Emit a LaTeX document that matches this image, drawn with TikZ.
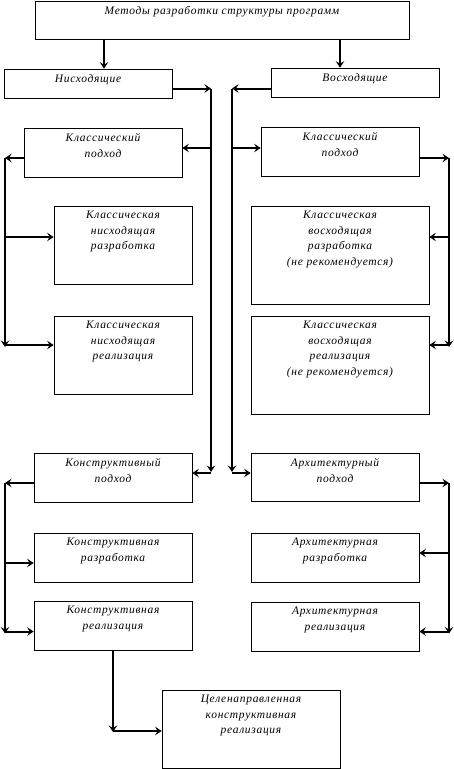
\documentclass[tikz,border=0pt]{standalone}
\usepackage{fontspec}
\setmainfont{Liberation Serif}[LetterSpace=6]
\usepackage{tikz}
\usetikzlibrary{arrows.meta,positioning}

\begin{document}
\begin{tikzpicture}[
    x=1pt, y=-1pt,
    node distance=3.5pt,
    box/.style={draw, line width=0.7pt, minimum width=#1, inner sep=0pt},
    txt/.style={font=\fontsize{11.5}{15.5}\selectfont\itshape, align=center, inner sep=2pt},
    flow/.style={-{Stealth[length=6.5pt,width=8.5pt,inset=2.5pt]}, line width=2pt}
]
\useasboundingbox (0,0) rectangle (454,769);
% rails and trunks
\coordinate (ldown) at (104,0);
\coordinate (rdown) at (340,0);
\coordinate (ltrunk) at (211,0);
\coordinate (rtrunk) at (232,0);
\coordinate (lrail) at (5,0);
\coordinate (rrail) at (449,0);
\coordinate (cdown) at (113,0);

% top level
\node[box=374pt, minimum height=38pt] (meth) at (222,20) {};
\node[txt, below=of meth.north] (meth-t) {Методы разработки структуры программ};
\node[box=168pt, minimum height=29pt] (nis) at (88,83.5) {};
\node[txt, below=of nis.north] (nis-t) {Нисходящие};
\node[box=168pt, minimum height=29pt] (vos) at (355,82.5) {};
\node[txt, below=of vos.north] (vos-t) {Восходящие};

% classic approach
\node[box=158pt, minimum height=49pt] (lcl) at (103,152.5) {};
\node[txt, below=of lcl.north] (lcl-t) {Классический\\подход};
\node[box=158pt, minimum height=49pt] (rcl) at (340,151.5) {};
\node[txt, below=of rcl.north] (rcl-t) {Классический\\подход};
\node[box=138pt, minimum height=78pt] (lnd) at (123,245) {};
\node[txt, below=of lnd.north] (lnd-t) {Классическая\\нисходящая\\разработка};
\node[box=138pt, minimum height=78pt] (lnr) at (123,355) {};
\node[txt, below=of lnr.north] (lnr-t) {Классическая\\нисходящая\\реализация};
\node[box=178pt, minimum height=98pt] (rvd) at (340,255) {};
\node[txt, below=of rvd.north] (rvd-t) {Классическая\\восходящая\\разработка\\(не рекомендуется)};
\node[box=178pt, minimum height=98pt] (rvr) at (340,365) {};
\node[txt, below=of rvr.north] (rvr-t) {Классическая\\восходящая\\реализация\\(не рекомендуется)};

% constructive / architectural
\node[box=158pt, minimum height=49pt] (lkp) at (113,477.5) {};
\node[txt, below=of lkp.north] (lkp-t) {Конструктивный\\подход};
\node[box=168pt, minimum height=48pt] (rap) at (335,477) {};
\node[txt, below=of rap.north] (rap-t) {Архитектурный\\подход};
\node[box=158pt, minimum height=49pt] (lkd) at (113,557.5) {};
\node[txt, below=of lkd.north] (lkd-t) {Конструктивная\\разработка};
\node[box=168pt, minimum height=49pt] (rad) at (335,557.5) {};
\node[txt, below=of rad.north] (rad-t) {Архитектурная\\разработка};
\node[box=158pt, minimum height=49pt] (lkr) at (113,625.5) {};
\node[txt, below=of lkr.north] (lkr-t) {Конструктивная\\реализация};
\node[box=168pt, minimum height=49pt] (rar) at (335,626.5) {};
\node[txt, below=of rar.north] (rar-t) {Архитектурная\\реализация};
\node[box=178pt, minimum height=78pt] (cel) at (251,729) {};
\node[txt, below=of cel.north] (cel-t) {Целенаправленная\\конструктивная\\реализация};

% connection points on the box sides
\coordinate (nis-o) at ([yshift=-5pt]nis.east);
\coordinate (vos-o) at ([yshift=-6pt]vos.west);
\coordinate (lcl-i) at ([yshift=4.5pt]lcl.east);
\coordinate (lcl-o) at ([yshift=-5.5pt]lcl.west);
\coordinate (rcl-i) at ([yshift=3.5pt]rcl.west);
\coordinate (rcl-o) at ([yshift=-6.5pt]rcl.east);
\coordinate (lnd-i) at ([yshift=8pt]lnd.west);
\coordinate (lnr-i) at ([yshift=10pt]lnr.west);
\coordinate (rvd-i) at ([yshift=18pt]rvd.east);
\coordinate (rvr-i) at ([yshift=20pt]rvr.east);
\coordinate (lkp-i) at ([yshift=4.5pt]lkp.east);
\coordinate (lkp-o) at ([yshift=-5.5pt]lkp.west);
\coordinate (rap-i) at ([yshift=4pt]rap.west);
\coordinate (rap-o) at ([yshift=-6pt]rap.east);
\coordinate (lkd-i) at ([yshift=-5.5pt]lkd.west);
\coordinate (lkr-i) at ([yshift=-6pt]lkr.west);
\coordinate (rad-i) at ([yshift=4.5pt]rad.east);
\coordinate (rar-i) at ([yshift=-5pt]rar.east);
\coordinate (cel-i) at ([yshift=-2pt]cel.west);

% connectors
\draw[flow] (ldown |- meth.south) -- (ldown |- nis.north);
\draw[flow] (rdown |- meth.south) -- (rdown |- vos.north);
\draw[flow] (nis-o) -- (ltrunk |- nis-o);
\draw[flow] (vos-o) -- (rtrunk |- vos-o);
\draw[flow] (ltrunk |- nis-o) -- ([yshift=1pt]ltrunk |- lkp-i);
\draw[flow] (rtrunk |- vos-o) -- ([yshift=1pt]rtrunk |- rap-i);
\draw[flow] (ltrunk |- lcl-i) -- (lcl-i);
\draw[flow] (rtrunk |- rcl-i) -- (rcl-i);
\draw[flow] (ltrunk |- lkp-i) -- (lkp-i);
\draw[flow] (rtrunk |- rap-i) -- (rap-i);

% classic rails
\draw[flow] (lcl-o) -- (lrail |- lcl-o);
\draw[flow] (lrail |- lcl-o) -- ([yshift=-2pt]lrail |- lnr-i);
\draw[flow] (lrail |- lnd-i) -- (lnd-i);
\draw[flow] (lrail |- lnr-i) -- (lnr-i);
\draw[flow] (rcl-o) -- (rrail |- rcl-o);
\draw[flow] (rrail |- rcl-o) -- ([yshift=-2pt]rrail |- rvr-i);
\draw[flow] (rrail |- rvd-i) -- (rvd-i);
\draw[flow] (rrail |- rvr-i) -- (rvr-i);

% constructive / architectural rails
\draw[flow] (lkp-o) -- (lrail |- lkp-o);
\draw[flow] (lrail |- lkp-o) -- ([yshift=-2pt]lrail |- lkr-i);
\draw[flow] (lrail |- lkd-i) -- (lkd-i);
\draw[flow] (lrail |- lkr-i) -- (lkr-i);
\draw[flow] (rap-o) -- (rrail |- rap-o);
\draw[flow] (rrail |- rap-o) -- ([yshift=-2pt]rrail |- rar-i);
\draw[flow] (rrail |- rad-i) -- (rad-i);
\draw[flow] (rrail |- rar-i) -- (rar-i);

% goal-directed
\draw[flow] (cdown |- lkr.south) -- ([yshift=-1pt]cdown |- cel-i);
\draw[flow] (cdown |- cel-i) -- (cel-i);
\end{tikzpicture}
\end{document}
